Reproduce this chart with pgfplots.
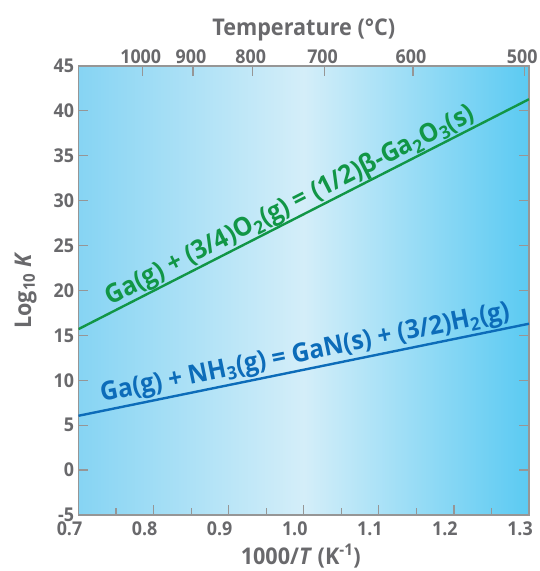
\documentclass[border=0pt]{standalone}
\usepackage{fontspec}
\setmainfont{Open Sans}[FakeStretch=0.94]
\usepackage{pgfplots}
\pgfplotsset{compat=1.18}
\usetikzlibrary{calc}
\definecolor{bgL}{RGB}{134,212,243}
\definecolor{bgM}{RGB}{212,238,249}
\definecolor{bgR}{RGB}{91,202,242}
\definecolor{txtgray}{RGB}{105,105,108}
\definecolor{axgray}{RGB}{150,150,150}
\definecolor{oxgreen}{RGB}{17,150,70}
\definecolor{nitblue}{RGB}{12,108,185}

\begin{document}
\begin{tikzpicture}
\pgfplotsset{
  common/.style={
    scale only axis, width=450.5pt, height=449pt,
    xmin=0.7, xmax=1.3, ymin=-5, ymax=45,
    axis line style={axgray, line width=1.4pt},
    tick style={axgray, line width=1.2pt},
    tick align=inside,
    major tick length=10pt, minor tick length=7pt,
    ticklabel style={font=\fontsize{19}{20}\selectfont\bfseries, text=txtgray},
    /pgf/number format/assume math mode=true,
    label style={font=\fontsize{23}{25}\selectfont\bfseries, text=txtgray},
  }
}
% --- main axis: log K vs 1000/T ---
\begin{axis}[
  common, name=main,
  axis background/.style={left color=bgL, right color=bgR, middle color=bgM},
  xtick={0.7,0.8,0.9,1.0,1.1,1.2,1.3},
  minor xtick={0.75,0.85,0.95,1.05,1.15,1.25},
  xtick pos=bottom,
  xticklabel style={yshift=-3pt, xshift=-9pt, /pgf/number format/.cd, fixed, fixed zerofill, precision=1},
  yticklabel style={xshift=-1pt},
  ytick={-5,0,5,...,45},
  ytick pos=both, yticklabel pos=left,
  xlabel={1000/\textit{T} (K\textsuperscript{-1})},
  ylabel={Log\textsubscript{10} \textit{K}},
  xlabel style={yshift=-2pt, xshift=-3pt},
  ylabel style={yshift=10pt},
]
\addplot[oxgreen, line width=2.4pt] coordinates {(0.7,15.7) (1.3,41.3)};
\addplot[nitblue, line width=2.4pt] coordinates {(0.7,6.05) (1.3,16.3)};
\node[rotate=27, text=oxgreen, font=\fontsize{26}{28}\selectfont\bfseries]
  at (axis cs:0.982,29.4) {Ga(g) + (3/4)O\textsubscript{2}(g) = (1/2)β-Ga\textsubscript{2}O\textsubscript{3}(s)};
\node[rotate=11.5, text=nitblue, font=\fontsize{26}{28}\selectfont\bfseries]
  at (axis cs:1.002,12.9) {Ga(g) + NH\textsubscript{3}(g) = GaN(s) + (3/2)H\textsubscript{2}(g)};
\end{axis}
% --- top axis: temperature in degrees C ---
\begin{axis}[
  common, at={(main.south west)}, anchor=south west,
  axis x line*=top, axis y line=none,
  xtick={0.7855,0.8525,0.9320,1.0277,1.1455,1.2937},
  xticklabels={1000,900,800,700,600,500},
  xticklabel style={yshift=-1pt, xshift=-2pt},
  xlabel={Temperature (°C)},
  xlabel style={yshift=2pt},
]
\end{axis}
\pgfresetboundingbox
\path[use as bounding box] ($(main.south west)+(-78.5pt,-56pt)$) rectangle ($(main.north east)+(10pt,66pt)$);
\end{tikzpicture}
\end{document}
